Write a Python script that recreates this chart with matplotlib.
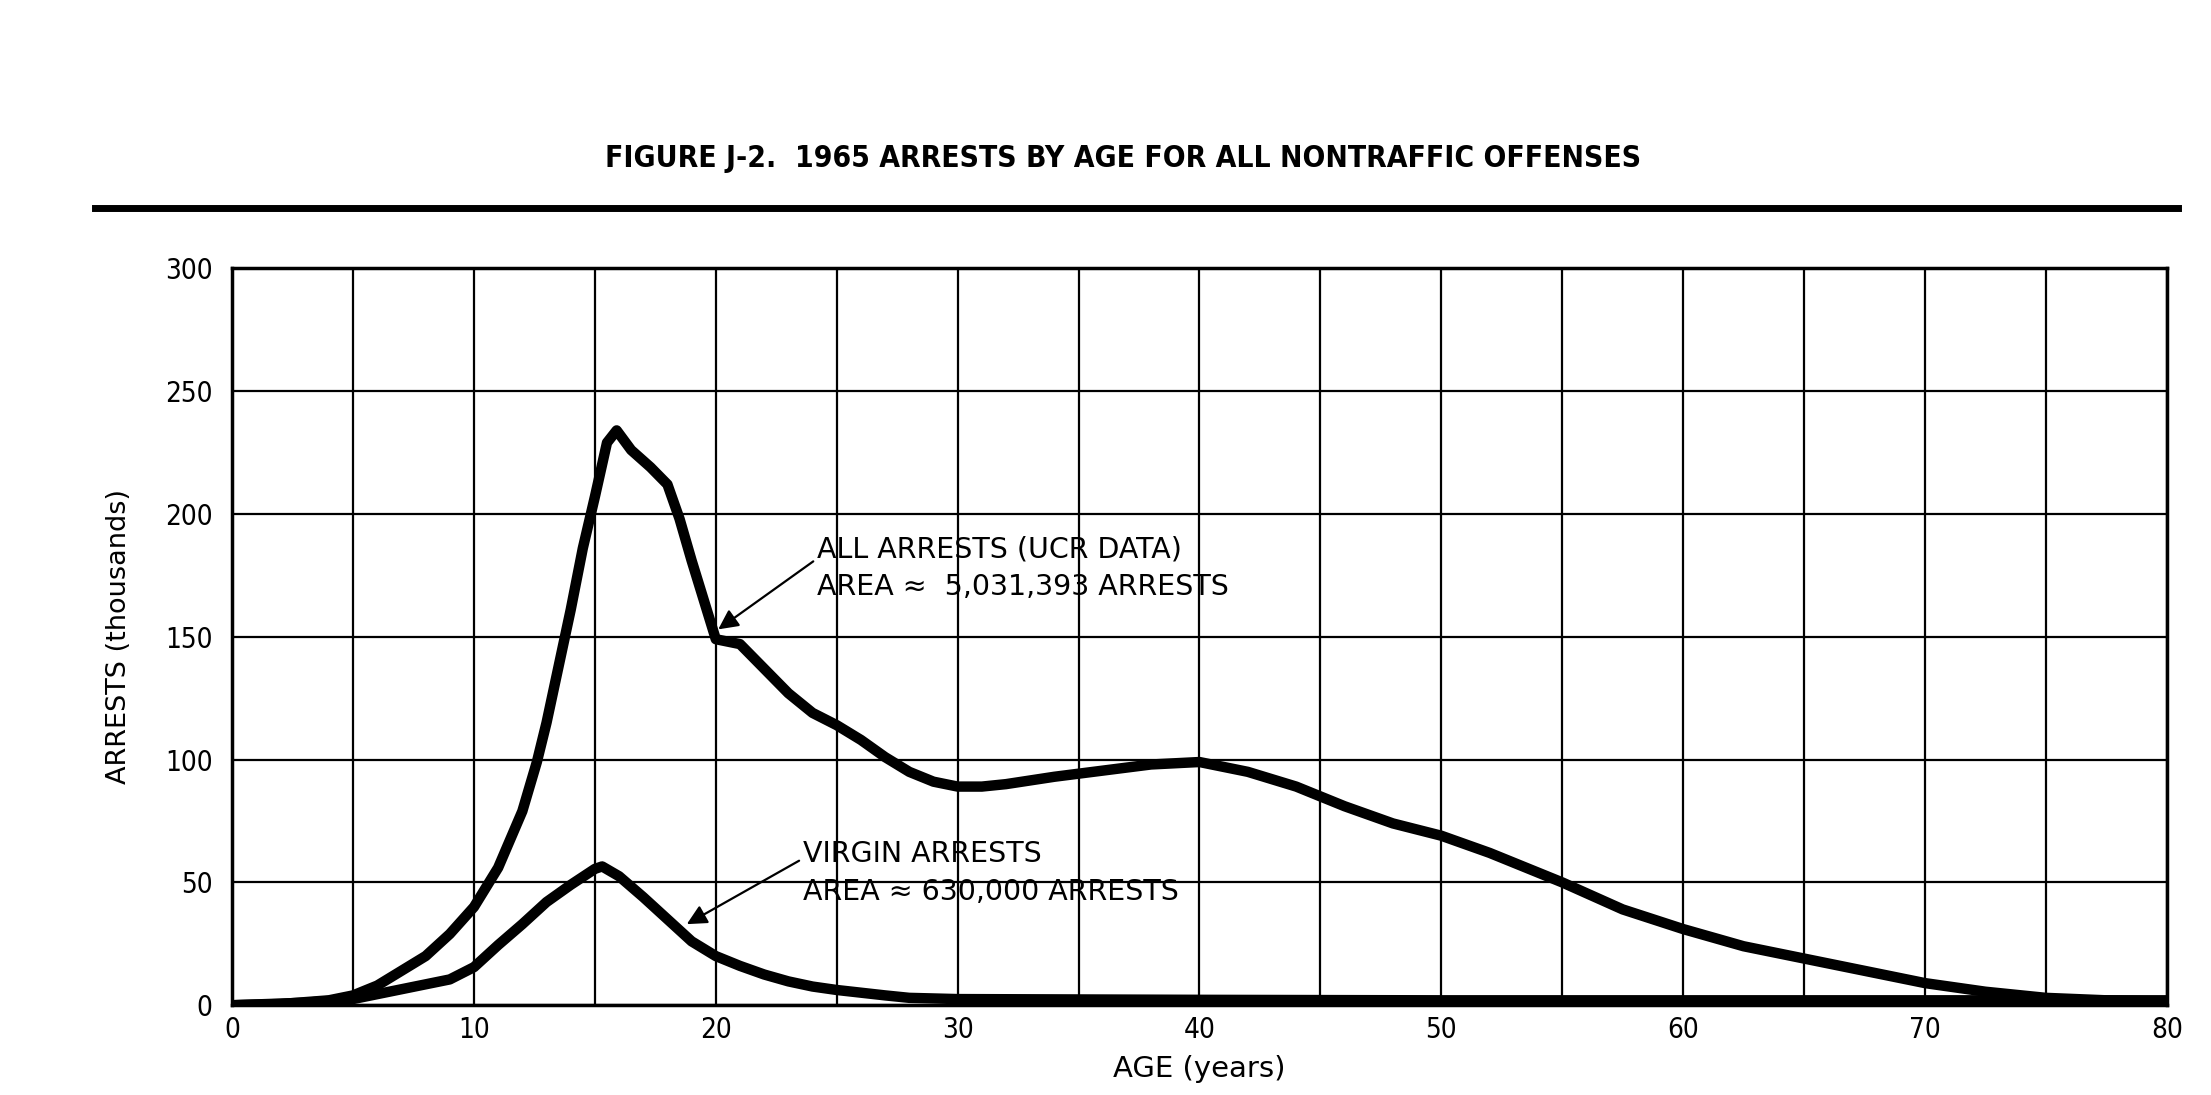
# 1965 arrests by age, all nontraffic offenses (figure J-2 redraw)
import matplotlib
matplotlib.use('Agg')
from matplotlib import pyplot as plt
import numpy as np

# ages and arrests (thousands)
all_age = [0, 2, 4, 5, 6, 7, 8, 9, 10, 11, 12, 12.6, 13, 13.5, 14, 14.5, 15,
           15.5, 15.9, 16.5, 17.3, 18, 18.5, 19, 19.5, 20, 20.5, 21, 22, 23,
           24, 25, 26, 27, 28, 29, 30, 31, 32, 34, 36, 38, 40, 42, 44, 46, 48,
           50, 52, 54, 55, 57.5, 60, 62.5, 65, 67.5, 70, 72.5, 75, 77.5, 80]
all_arrests = [0, 0.5, 2, 4, 8, 14, 20, 29, 40, 56, 79, 99, 115, 138, 161,
               186, 207, 229, 234, 226, 219, 212, 198, 181, 165, 149, 148, 147,
               137, 127, 119, 114, 108, 101, 95, 91, 89, 89, 90, 93, 95.5, 98,
               99, 95, 89, 81, 74, 69, 62, 54, 50, 39, 31, 24, 19, 14, 9, 5.5,
               3, 2, 1.5]

virgin_age = [0, 3, 5, 7, 9, 10, 11, 12, 13, 14, 15, 15.3, 16, 17, 18, 19, 20,
              21, 22, 23, 24, 25, 27, 28, 30, 40, 50, 60, 70, 80]
virgin_arrests = [0, 1, 2.5, 6.5, 10.5, 15.5, 24.5, 33, 42, 49, 55.5, 56.5,
                  52.5, 44, 35, 26, 20, 16, 12.5, 9.7, 7.6, 6.2, 4, 3, 2.5,
                  2.2, 2, 2, 2, 2]

title = 'FIGURE J-2.  1965 ARRESTS BY AGE FOR ALL NONTRAFFIC OFFENSES'
all_note = 'ALL ARRESTS (UCR DATA)\nAREA \u2248  5,031,393 ARRESTS'
virgin_note = 'VIRGIN ARRESTS\nAREA \u2248 630,000 ARRESTS'

fig = plt.figure(figsize=(22.11, 10.95), dpi=100)
ax = fig.add_axes([0.105, 0.082, 0.875, 0.673])

ax.plot(all_age, all_arrests, '-', color='black', lw=7.5,
        solid_joinstyle='round', solid_capstyle='round')
ax.plot(virgin_age, virgin_arrests, '-', color='black', lw=7.5,
        solid_joinstyle='round', solid_capstyle='round')

ax.set_xlim(0, 80)
ax.set_ylim(0, 300)
ax.set_xticks(np.arange(0, 81, 10))
ax.set_xticks(np.arange(0, 81, 5), minor=True)
ax.set_yticks(np.arange(0, 301, 50))
ax.grid(which='both', color='black', lw=1.6)
ax.tick_params(which='both', length=0, labelsize=20, pad=14)
ax.tick_params(axis='x', pad=8)
for lab in ax.get_xticklabels() + ax.get_yticklabels():
    lab.set_stretch('condensed')
for s in ax.spines.values():
    s.set_linewidth(2.5)

ax.set_xlabel('AGE (years)', fontsize=21, labelpad=8)
ax.set_ylabel('ARRESTS (thousands)', fontsize=19.5, labelpad=24)

ax.annotate(all_note, xy=(20.1, 153), xytext=(24.2, 178),
            fontsize=20.5, va='center', ha='left', linespacing=1.45,
            arrowprops=dict(arrowstyle='-|>', color='black', lw=1.6,
                            mutation_scale=30, shrinkA=0, shrinkB=0,
                            relpos=(-0.01, 0.6)))
ax.annotate(virgin_note, xy=(18.8, 33), xytext=(23.6, 54),
            fontsize=20.5, va='center', ha='left', linespacing=1.45,
            arrowprops=dict(arrowstyle='-|>', color='black', lw=1.6,
                            mutation_scale=30, shrinkA=0, shrinkB=0,
                            relpos=(-0.01, 0.68)))

fig.text(0.508, 0.855, title, ha='center', va='center', fontsize=21.5,
         fontweight='bold', stretch='condensed')
fig.add_artist(plt.Line2D([0.043, 0.985], [0.81, 0.81], color='black',
                          lw=5, transform=fig.transFigure))

fig.savefig('out.png', dpi=100, facecolor='white')
